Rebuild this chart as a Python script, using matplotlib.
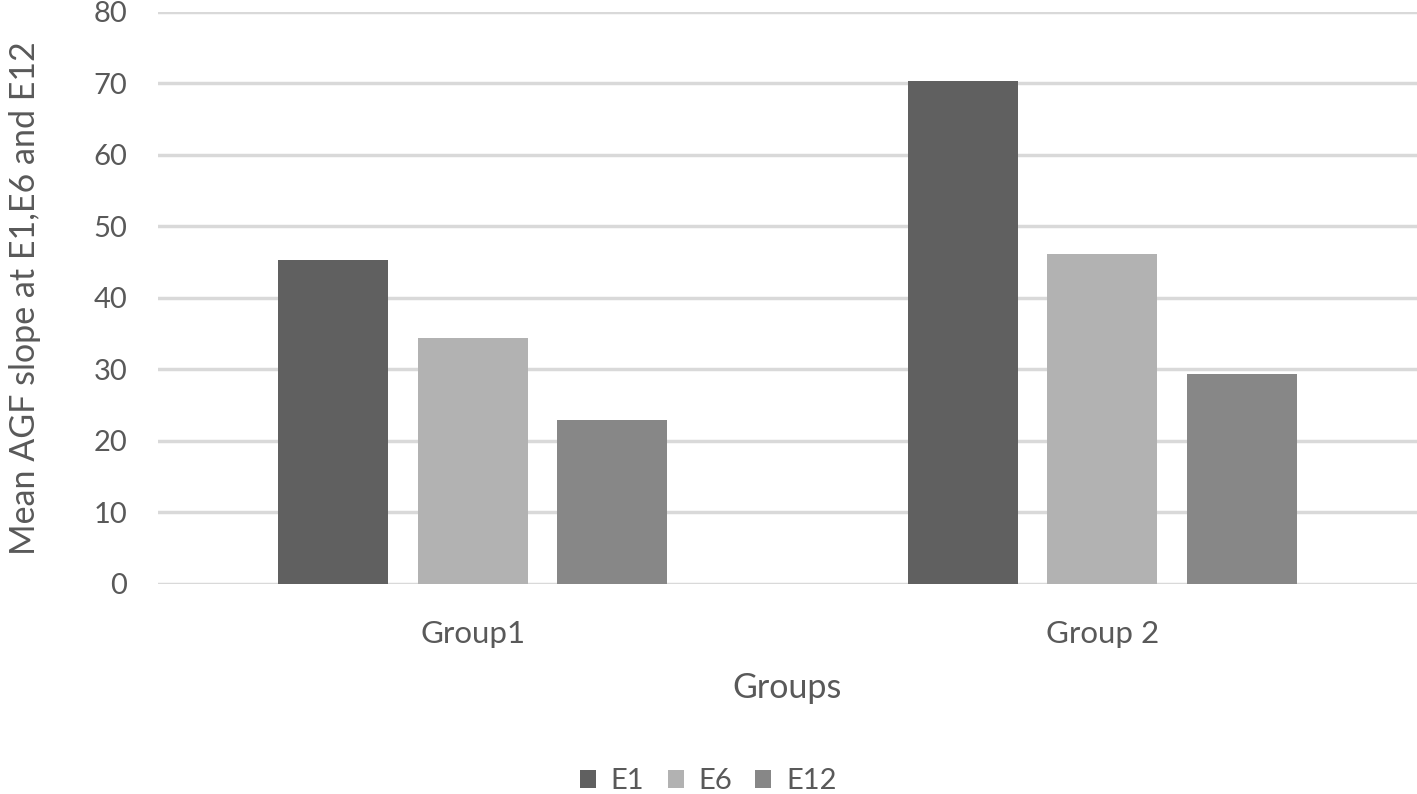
import numpy as np
import matplotlib
matplotlib.use("Agg")
import matplotlib.pyplot as plt

groups = ["Group1", "Group 2"]
series = ["E1", "E6", "E12"]
e1 = [45.3, 70.3]
e6 = [34.4, 46.2]
e12 = [23.0, 29.3]
colors = ["#606060", "#b2b2b2", "#878787"]

txt = "#595959"
plt.rcParams['font.family'] = ['Lato', 'DejaVu Sans']

fig = plt.figure(figsize=(14.17, 7.94), dpi=100)
ax = fig.add_axes([0.1115, 0.2645, 0.8885, 0.7205])

x = np.arange(len(groups))
w = 0.175
step = 0.2216
for i, (name, vals) in enumerate(zip(series, [e1, e6, e12])):
    ax.bar(x + (i - 1) * step, vals, width=w, color=colors[i], label=name, zorder=3)

ax.set_xlim(-0.5, 1.5)
ax.set_ylim(0, 80)
ax.set_yticks(range(0, 81, 10))
ax.grid(axis="y", color="#d9d9d9", linewidth=2.5, zorder=0)
ax.set_xticks(x)
ax.set_xticklabels(groups)
for s in ax.spines.values():
    s.set_visible(False)
ax.tick_params(axis="y", length=0, labelsize=21, colors=txt, pad=22)
ax.tick_params(axis="x", length=0, labelsize=22.5, colors=txt, pad=26)

ax.set_xlabel("Groups", fontsize=24.5, color=txt, labelpad=17)
ax.set_ylabel("Mean AGF slope at E1,E6 and E12", fontsize=24.5, color=txt, labelpad=38)

ax.legend(loc="center", bbox_to_anchor=(0.437, -0.345), ncol=3, frameon=False,
          fontsize=21, labelcolor=txt, handlelength=0.55, handleheight=0.55,
          handletextpad=0.5, columnspacing=0.8, borderaxespad=0)

fig.savefig("out.png", dpi=100)
